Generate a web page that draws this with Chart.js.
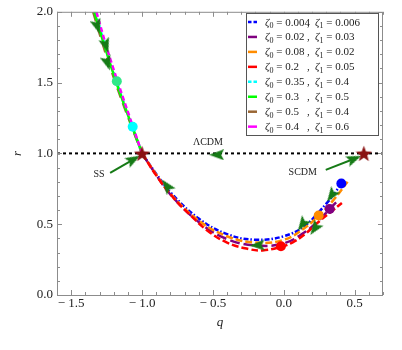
<!DOCTYPE html>
<html>
<head>
<meta charset="utf-8">
<script src="https://cdn.jsdelivr.net/npm/chart.js@4.4.1/dist/chart.umd.min.js"></script>
<style>
  html, body { margin: 0; padding: 0; background: #fff; }
</style>
</head>
<body>
<canvas id="c" width="402" height="350"></canvas>
<script>
// axis ticks
const xTicks = [-1.5, -1.0, -0.5, 0.0, 0.5];
const yTicks = [0.0, 0.5, 1.0, 1.5, 2.0];

// legend values
const zeta0 = ['0.004', '0.02', '0.08', '0.2', '0.35', '0.3', '0.5', '0.4'];
const zeta1 = ['0.006', '0.03', '0.02', '0.05', '0.4', '0.5', '0.4', '0.6'];

// lower branch (q, r)
const qBlue = [-1.0, -0.9, -0.8, -0.6, -0.4, -0.2, 0.0, 0.15, 0.3, 0.37, 0.41];
const rBlue = [1.0, 0.855, 0.725, 0.54, 0.43, 0.39, 0.415, 0.49, 0.645, 0.735, 0.79];
const qPurple = [-1.0, -0.9, -0.8, -0.6, -0.4, -0.2, 0.0, 0.15, 0.25, 0.324, 0.39];
const rPurple = [1.0, 0.848, 0.71, 0.515, 0.395, 0.35, 0.365, 0.445, 0.53, 0.608, 0.675];
const qOrange = [-1.0, -0.9, -0.8, -0.6, -0.4, -0.2, 0.0, 0.15, 0.246, 0.35, 0.45];
const rOrange = [1.0, 0.85, 0.715, 0.525, 0.415, 0.37, 0.39, 0.475, 0.56, 0.67, 0.8];
const qRed = [-1.0, -0.9, -0.78, -0.65, -0.54, -0.4, -0.25, -0.15, -0.02, 0.063, 0.15, 0.232, 0.324, 0.41];
const rRed = [1.0, 0.845, 0.688, 0.555, 0.456, 0.37, 0.325, 0.315, 0.34, 0.372, 0.43, 0.505, 0.58, 0.65];

// upper branch (q, r)
const rUpper = [2.0, 1.75, 1.5, 1.25, 1.0];
const qCyan = [-1.33, -1.258, -1.178, -1.09, -1.0];
const qGreen = [-1.337, -1.262, -1.181, -1.092, -1.0];
const qBrown = [-1.345, -1.27, -1.187, -1.096, -1.0];
const qMagenta = [-1.322, -1.25, -1.17, -1.085, -1.0];

// present-day points
const dotQ = [0.406, 0.324, 0.246, -0.02, -1.066, -1.178];
const dotR = [0.788, 0.608, 0.561, 0.344, 1.188, 1.509];

// fixed points (SS, SCDM)
const starQ = [-1.0, 0.565];
const starR = [1.0, 1.0];

// direction arrowheads along the trajectories
const arrowQ = [-1.315, -1.254, -1.244, -0.826, -0.474, 0.336, 0.13, 0.218, -0.188];
const arrowR = [1.895, 1.76, 1.637, 0.772, 0.99, 0.702, 0.497, 0.468, 0.351];
const arrowAngle = [162, 162, 162, -37, -90, -145, -145, -145, -92];

// LCDM line and pointer arrows
const lcdmQ = [-1.6, 0.7];
const lcdmR = [1.0, 1.0];
const ssQ = [-1.225, -1.06];
const ssR = [0.863, 0.958];
const scdmQ = [0.296, 0.497];
const scdmR = [0.884, 0.962];

const zip = (qs, rs) => qs.map((q, i) => ({ x: q, y: rs[i] }));
const SERIF = '"Liberation Serif", "DejaVu Serif", serif';
const ARROW_GREEN = '#167a16';

function makeStar(size, color) {
  const c = document.createElement('canvas');
  c.width = c.height = size;
  const g = c.getContext('2d');
  const cx = size / 2, cy = size / 2 + 0.8, R = size / 2, r = R * 0.42;
  g.fillStyle = color;
  g.beginPath();
  for (let i = 0; i < 10; i++) {
    const rad = i % 2 ? r : R;
    const a = -Math.PI / 2 + i * Math.PI / 5;
    g.lineTo(cx + rad * Math.cos(a), cy + rad * Math.sin(a));
  }
  g.closePath();
  g.fill();
  return c;
}

function makeArrowHead(w, h, color) {
  const c = document.createElement('canvas');
  c.width = w; c.height = h;
  const g = c.getContext('2d');
  g.fillStyle = color;
  g.beginPath();
  g.moveTo(w / 2, 0);
  g.lineTo(w, h);
  g.lineTo(w / 2, h * 0.8);
  g.lineTo(0, h);
  g.closePath();
  g.fill();
  return c;
}

const starImg = makeStar(17, '#8a1212');
const arrowImg = makeArrowHead(11, 15, ARROW_GREEN);

const series = [
  { q: qBlue, r: rBlue, color: '#0000ff', dash: [5, 2, 1.5, 2], legendDash: [3.5, 2] },
  { q: qPurple, r: rPurple, color: '#800080', dash: [10, 4], legendDash: [] },
  { q: qOrange, r: rOrange, color: '#ff8c00', dash: [7, 3], legendDash: [] },
  { q: qRed, r: rRed, color: '#ff0000', dash: [7, 3], legendDash: [] },
  { q: qCyan, r: rUpper, color: '#00ffff', dash: [4, 3], legendDash: [3.5, 2] },
  { q: qGreen, r: rUpper, color: '#00ff00', dash: [], legendDash: [] },
  { q: qBrown, r: rUpper, color: '#996633', dash: [10, 6], legendDash: [] },
  { q: qMagenta, r: rUpper, color: '#ff00ff', dash: [5, 3], legendDash: [] }
];

const curveSets = series.map(s => ({
  data: zip(s.q, s.r),
  borderColor: s.color,
  borderDash: s.dash,
  borderWidth: 2.5,
  pointRadius: 0,
  tension: 0.4,
  fill: false
}));
// red and magenta end up on top like the reference
const drawOrder = [3, 7, 2, 1, 0, 5, 6, 4];

const datasets = [
  {
    data: zip(starQ, starR), showLine: false,
    pointStyle: starImg, pointRadius: 8
  },
  {
    data: zip(dotQ, dotR), showLine: false,
    pointStyle: 'circle', pointRadius: 5, pointBorderWidth: 0,
    pointBackgroundColor: ['#0000ff', '#800080', '#ff8c00', '#ff0000', '#00ffff', '#30e888']
  },
  {
    data: zip(arrowQ, arrowR), showLine: false,
    pointStyle: arrowImg, pointRadius: 7, pointRotation: arrowAngle
  },
  {
    data: [zip(ssQ, ssR)[1], zip(scdmQ, scdmR)[1]], showLine: false,
    pointStyle: arrowImg, pointRadius: 7, pointRotation: [61, 68]
  },
  { data: zip(ssQ, ssR), borderColor: ARROW_GREEN, borderWidth: 2, pointRadius: 0 },
  { data: zip(scdmQ, scdmR), borderColor: ARROW_GREEN, borderWidth: 2, pointRadius: 0 },
  ...drawOrder.map(i => curveSets[i]),
  {
    data: zip(lcdmQ, lcdmR), borderColor: '#000', borderWidth: 2,
    borderDash: [3, 3], pointRadius: 0
  }
];

const framePlugin = {
  id: 'frame',
  afterDraw(chart) {
    const { ctx, chartArea: a, scales: { x, y } } = chart;
    ctx.save();
    ctx.strokeStyle = '#8c8c8c';
    ctx.lineWidth = 1;
    ctx.strokeRect(a.left + 0.5, a.top + 0.5, a.right - a.left - 1, a.bottom - a.top);

    ctx.beginPath();
    for (let k = -16; k <= 7; k++) {
      const px = Math.round(x.getPixelForValue(k / 10)) + 0.5;
      const len = k % 5 === 0 ? 5 : 3;
      ctx.moveTo(px, a.bottom); ctx.lineTo(px, a.bottom - len);
      ctx.moveTo(px, a.top); ctx.lineTo(px, a.top + len);
    }
    for (let k = 0; k <= 20; k++) {
      const py = Math.round(y.getPixelForValue(k / 10)) + 0.5;
      const len = k % 5 === 0 ? 5 : 3;
      ctx.moveTo(a.left, py); ctx.lineTo(a.left + len, py);
      ctx.moveTo(a.right, py); ctx.lineTo(a.right - len, py);
    }
    ctx.stroke();

    // point labels
    ctx.fillStyle = '#222';
    ctx.font = '10px ' + SERIF;
    ctx.textAlign = 'center';
    ctx.textBaseline = 'middle';
    ctx.fillText('\u039BCDM', x.getPixelForValue(-0.535), y.getPixelForValue(1.076));
    ctx.fillText('SS', x.getPixelForValue(-1.303), y.getPixelForValue(0.849));
    ctx.fillText('SCDM', x.getPixelForValue(0.134), y.getPixelForValue(0.863));

    // legend
    const bx = 246, by = 13, bw = 132, bh = 122;
    ctx.fillStyle = '#fff';
    ctx.fillRect(bx, by, bw, bh);
    ctx.strokeStyle = '#555';
    ctx.strokeRect(bx + 0.5, by + 0.5, bw, bh);
    ctx.textAlign = 'left';
    ctx.textBaseline = 'alphabetic';
    series.forEach((s, i) => {
      const rowY = 22 + i * 14.95;
      ctx.strokeStyle = s.color;
      ctx.lineWidth = 2.5;
      ctx.setLineDash(s.legendDash);
      ctx.beginPath();
      ctx.moveTo(248, rowY); ctx.lineTo(257, rowY);
      ctx.stroke();
      ctx.setLineDash([]);
      ctx.fillStyle = '#222';
      drawZeta(ctx, 265, rowY + 3.5, '0', zeta0[i]);
      ctx.font = '11px ' + SERIF;
      ctx.fillText(',', 307, rowY + 3.5);
      drawZeta(ctx, 315, rowY + 3.5, '1', zeta1[i]);
    });
    ctx.restore();
  }
};

function drawZeta(ctx, x0, y0, sub, val) {
  let xx = x0;
  ctx.font = 'italic 11px ' + SERIF;
  ctx.fillText('\u03B6', xx, y0);
  xx += ctx.measureText('\u03B6').width;
  ctx.font = '8px ' + SERIF;
  ctx.fillText(sub, xx, y0 + 2.5);
  xx += ctx.measureText(sub).width;
  ctx.font = '11px ' + SERIF;
  ctx.fillText(' = ' + val, xx, y0);
}

const fmt = v => (v < 0 ? '\u2212 ' : '') + Math.abs(v).toFixed(1);

new Chart(document.getElementById('c'), {
  type: 'line',
  data: { datasets },
  options: {
    responsive: false,
    animation: false,
    events: [],
    layout: { padding: { top: 10, right: 19, left: 0, bottom: 0 } },
    plugins: { legend: { display: false }, tooltip: { enabled: false } },
    scales: {
      x: {
        type: 'linear', min: -1.6, max: 0.7,
        afterBuildTicks: s => { s.ticks = xTicks.map(v => ({ value: v })); },
        afterFit: s => { s.height = 55; },
        grid: { display: false, drawTicks: false },
        border: { display: false },
        ticks: { callback: fmt, padding: 1, color: '#222', font: { family: SERIF, size: 13 }, maxRotation: 0 },
        title: { display: true, text: 'q', color: '#222', font: { family: SERIF, size: 13, style: 'italic' }, padding: { top: 0, bottom: 20 } }
      },
      y: {
        type: 'linear', min: 0, max: 2,
        afterBuildTicks: s => { s.ticks = yTicks.map(v => ({ value: v })); },
        afterFit: s => { s.width = 57; },
        grid: { display: false, drawTicks: false },
        border: { display: false },
        ticks: { callback: fmt, padding: 4, color: '#222', font: { family: SERIF, size: 13 } },
        title: { display: true, text: 'r', color: '#222', font: { family: SERIF, size: 13, style: 'italic' }, padding: { top: 10, bottom: 0 } }
      }
    }
  },
  plugins: [framePlugin]
});
</script>
</body>
</html>
